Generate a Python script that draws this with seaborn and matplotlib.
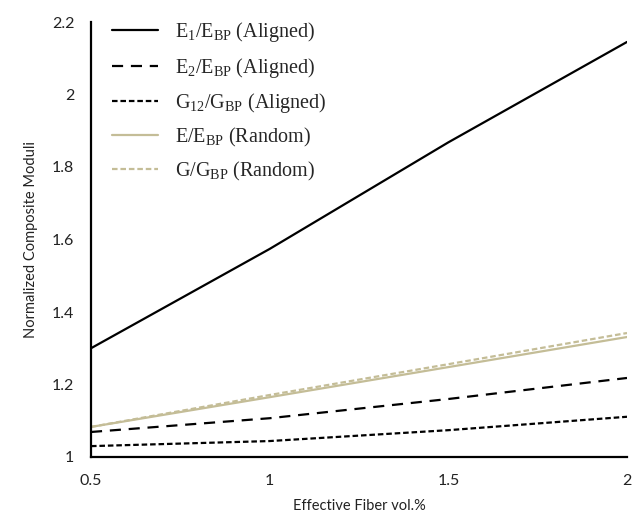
import matplotlib
matplotlib.use("Agg")
import matplotlib.pyplot as plt
import seaborn as sns
import pandas as pd

fiber_vol = [0.5, 1.0, 1.5, 2.0]
e1_aligned = [1.30, 1.574, 1.868, 2.145]
e2_aligned = [1.069, 1.107, 1.160, 1.218]
g12_aligned = [1.030, 1.044, 1.074, 1.111]
e_random = [1.083, 1.165, 1.248, 1.331]
g_random = [1.083, 1.171, 1.256, 1.342]

labels = [
    r"E$_{\mathrm{1}}$/E$_{\mathrm{BP}}$ (Aligned)",
    r"E$_{\mathrm{2}}$/E$_{\mathrm{BP}}$ (Aligned)",
    r"G$_{\mathrm{12}}$/G$_{\mathrm{BP}}$ (Aligned)",
    r"E/E$_{\mathrm{BP}}$ (Random)",
    r"G/G$_{\mathrm{BP}}$ (Random)",
]
y_ticks = [1, 1.2, 1.4, 1.6, 1.8, 2, 2.2]
x_ticks = [0.5, 1, 1.5, 2]

sns.set_style("white")
plt.rcParams["font.family"] = ["Lato", "DejaVu Sans"]
plt.rcParams["mathtext.fontset"] = "custom"
plt.rcParams["mathtext.rm"] = "Liberation Serif"
plt.rcParams["mathtext.it"] = "Liberation Serif:italic"

fig = plt.figure(figsize=(6.35, 5.22), dpi=100)
ax = fig.add_axes([91 / 635, 1 - 457 / 522, (627 - 91) / 635, (457 - 22) / 522])

tan = "#C4BD97"
series = [
    (e1_aligned, "black", None),
    (e2_aligned, "black", (5, 3.5)),
    (g12_aligned, "black", (2.5, 1.3)),
    (e_random, tan, None),
    (g_random, tan, (2.5, 1.3)),
]
for (vals, col, dash), lab in zip(series, labels):
    df = pd.DataFrame({"x": fiber_vol, "y": vals})
    sns.lineplot(data=df, x="x", y="y", ax=ax, color=col, linewidth=1.6, label=lab)
    line = ax.get_lines()[-1]
    if dash is not None:
        line.set_dashes(dash)

ax.set_xlim(0.5, 2)
ax.set_ylim(1, 2.2)
ax.set_xticks(x_ticks)
ax.set_xticklabels(["0.5", "1", "1.5", "2"])
ax.set_yticks(y_ticks)
ax.set_yticklabels(["1", "1.2", "1.4", "1.6", "1.8", "2", "2.2"])
ax.tick_params(axis="both", length=0, labelsize=11.5, colors="#222222")
ax.tick_params(axis="x", pad=12)
ax.tick_params(axis="y", pad=12)
for s in ["top", "right"]:
    ax.spines[s].set_visible(False)
for s in ["left", "bottom"]:
    ax.spines[s].set_color("black")
    ax.spines[s].set_linewidth(1.6)

ax.set_xlabel("Effective Fiber vol.%", fontsize=10.5, color="#222222", labelpad=8)
ax.set_ylabel("Normalized Composite Moduli", fontsize=10.5, color="#222222", labelpad=10)

leg = ax.legend(loc="upper left", frameon=False, handlelength=2.24,
                labelspacing=0.55, handletextpad=0.85, borderaxespad=0.0,
                bbox_to_anchor=(0.025, 1.022),
                prop={"family": "Liberation Serif", "size": 14.5})

fig.savefig("out.png", dpi=100)
